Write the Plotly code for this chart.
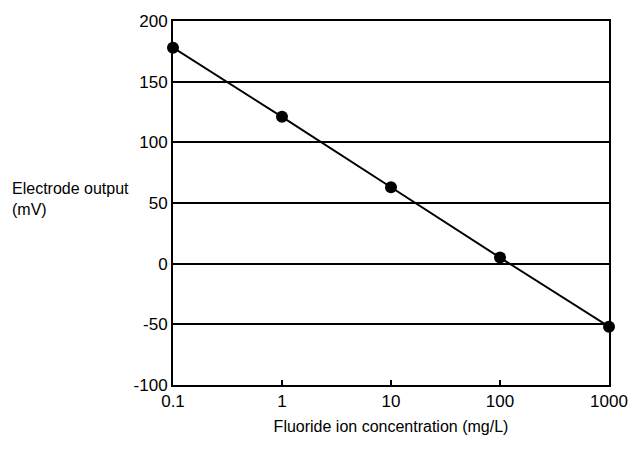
import plotly.graph_objects as go

# Fluoride ion-selective electrode calibration
concentration_mg_per_l = [0.1, 1, 10, 100, 1000]
electrode_mv = [178, 121, 63, 5, -52]

x_tick_vals = [0.1, 1, 10, 100, 1000]
x_tick_text = ["0.1", "1", "10", "100", "1000"]
y_tick_vals = [-100, -50, 0, 50, 100, 150, 200]
y_tick_text = ["-100", "-50", "0", "50", "100", "150", "200"]

FONT = "Liberation Sans, Arial, sans-serif"

fig = go.Figure()
fig.add_trace(go.Scatter(
    x=concentration_mg_per_l,
    y=electrode_mv,
    mode="lines+markers",
    line=dict(color="black", width=2),
    marker=dict(color="black", size=12),
    cliponaxis=False,
    showlegend=False,
))

fig.update_xaxes(
    type="log",
    range=[-1, 3],
    tickvals=x_tick_vals,
    ticktext=x_tick_text,
    showgrid=False,
    showline=True, linecolor="black", linewidth=2, mirror=True,
    ticks="inside", ticklen=5, tickwidth=2, tickcolor="black",
    tickfont=dict(family=FONT, size=17, color="black"),
    title=dict(text="Fluoride ion concentration (mg/L)",
               font=dict(family=FONT, size=16, color="black"), standoff=10),
)
fig.update_yaxes(
    range=[-100, 200],
    tickvals=y_tick_vals,
    ticktext=y_tick_text,
    showgrid=True, gridcolor="black", gridwidth=2,
    zeroline=True, zerolinecolor="black", zerolinewidth=2,
    showline=True, linecolor="black", linewidth=2, mirror=True,
    ticks="inside", ticklen=4, tickwidth=2, tickcolor="black",
    tickfont=dict(family=FONT, size=17, color="black"),
)

fig.add_annotation(
    text="Electrode output<br>(mV)",
    xref="paper", yref="paper", x=-0.375, y=0.51,
    xanchor="left", yanchor="middle", align="left", showarrow=False,
    font=dict(family=FONT, size=16, color="black"),
)

fig.update_layout(
    width=640, height=451,
    margin=dict(l=173, r=27, t=17, b=66),
    paper_bgcolor="white", plot_bgcolor="white",
)

fig.write_html("out.html")
